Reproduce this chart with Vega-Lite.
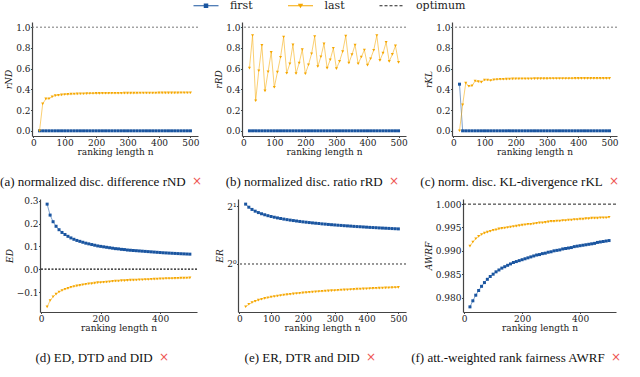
{
"$schema": "https://vega.github.io/schema/vega-lite/v6.json",
"padding": 0,
"background": "white",
"datasets": {
"a": [{"n":20,"f":0,"l":0},{"n":30,"f":0,"l":0.26},{"n":40,"f":0,"l":0.308},{"n":50,"f":0,"l":0.31},{"n":60,"f":0,"l":0.328},{"n":70,"f":0,"l":0.34},{"n":80,"f":0,"l":0.343},{"n":90,"f":0,"l":0.347},{"n":100,"f":0,"l":0.35},{"n":110,"f":0,"l":0.352},{"n":120,"f":0,"l":0.354},{"n":130,"f":0,"l":0.355},{"n":140,"f":0,"l":0.356},{"n":150,"f":0,"l":0.357},{"n":160,"f":0,"l":0.358},{"n":170,"f":0,"l":0.359},{"n":180,"f":0,"l":0.36},{"n":190,"f":0,"l":0.36},{"n":200,"f":0,"l":0.361},{"n":210,"f":0,"l":0.361},{"n":220,"f":0,"l":0.362},{"n":230,"f":0,"l":0.362},{"n":240,"f":0,"l":0.362},{"n":250,"f":0,"l":0.363},{"n":260,"f":0,"l":0.363},{"n":270,"f":0,"l":0.363},{"n":280,"f":0,"l":0.363},{"n":290,"f":0,"l":0.364},{"n":300,"f":0,"l":0.364},{"n":310,"f":0,"l":0.364},{"n":320,"f":0,"l":0.364},{"n":330,"f":0,"l":0.364},{"n":340,"f":0,"l":0.365},{"n":350,"f":0,"l":0.365},{"n":360,"f":0,"l":0.365},{"n":370,"f":0,"l":0.365},{"n":380,"f":0,"l":0.365},{"n":390,"f":0,"l":0.365},{"n":400,"f":0,"l":0.366},{"n":410,"f":0,"l":0.366},{"n":420,"f":0,"l":0.366},{"n":430,"f":0,"l":0.366},{"n":440,"f":0,"l":0.366},{"n":450,"f":0,"l":0.366},{"n":460,"f":0,"l":0.366},{"n":470,"f":0,"l":0.367},{"n":480,"f":0,"l":0.367},{"n":490,"f":0,"l":0.367},{"n":500,"f":0,"l":0.367}],
"b": [{"n":20,"f":0,"l":0.605},{"n":30,"f":0,"l":0.92},{"n":40,"f":0,"l":0.29},{"n":50,"f":0,"l":0.58},{"n":60,"f":0,"l":0.825},{"n":70,"f":0,"l":0.385},{"n":80,"f":0,"l":0.57},{"n":90,"f":0,"l":0.757},{"n":100,"f":0,"l":0.42},{"n":110,"f":0,"l":0.566},{"n":120,"f":0,"l":0.71},{"n":130,"f":0,"l":0.905},{"n":140,"f":0,"l":0.556},{"n":150,"f":0,"l":0.647},{"n":160,"f":0,"l":0.83},{"n":170,"f":0,"l":0.553},{"n":180,"f":0,"l":0.654},{"n":190,"f":0,"l":0.783},{"n":200,"f":0,"l":0.55},{"n":210,"f":0,"l":0.637},{"n":220,"f":0,"l":0.744},{"n":230,"f":0,"l":0.91},{"n":240,"f":0,"l":0.62},{"n":250,"f":0,"l":0.715},{"n":260,"f":0,"l":0.84},{"n":270,"f":0,"l":0.605},{"n":280,"f":0,"l":0.686},{"n":290,"f":0,"l":0.796},{"n":300,"f":0,"l":0.6},{"n":310,"f":0,"l":0.67},{"n":320,"f":0,"l":0.764},{"n":330,"f":0,"l":0.915},{"n":340,"f":0,"l":0.654},{"n":350,"f":0,"l":0.735},{"n":360,"f":0,"l":0.828},{"n":370,"f":0,"l":0.647},{"n":380,"f":0,"l":0.712},{"n":390,"f":0,"l":0.78},{"n":400,"f":0,"l":0.634},{"n":410,"f":0,"l":0.696},{"n":420,"f":0,"l":0.777},{"n":430,"f":0,"l":0.92},{"n":440,"f":0,"l":0.68},{"n":450,"f":0,"l":0.75},{"n":460,"f":0,"l":0.854},{"n":470,"f":0,"l":0.67},{"n":480,"f":0,"l":0.738},{"n":490,"f":0,"l":0.82},{"n":500,"f":0,"l":0.66}],
"c": [{"n":20,"f":0.45,"l":0},{"n":30,"f":0,"l":0.25},{"n":40,"f":0,"l":0.46},{"n":50,"f":0,"l":0.43},{"n":60,"f":0,"l":0.435},{"n":70,"f":0,"l":0.48},{"n":80,"f":0,"l":0.475},{"n":90,"f":0,"l":0.47},{"n":100,"f":0,"l":0.49},{"n":110,"f":0,"l":0.49},{"n":120,"f":0,"l":0.485},{"n":130,"f":0,"l":0.493},{"n":140,"f":0,"l":0.495},{"n":150,"f":0,"l":0.497},{"n":160,"f":0,"l":0.497},{"n":170,"f":0,"l":0.499},{"n":180,"f":0,"l":0.5},{"n":190,"f":0,"l":0.501},{"n":200,"f":0,"l":0.502},{"n":210,"f":0,"l":0.502},{"n":220,"f":0,"l":0.503},{"n":230,"f":0,"l":0.503},{"n":240,"f":0,"l":0.503},{"n":250,"f":0,"l":0.503},{"n":260,"f":0,"l":0.504},{"n":270,"f":0,"l":0.504},{"n":280,"f":0,"l":0.504},{"n":290,"f":0,"l":0.504},{"n":300,"f":0,"l":0.504},{"n":310,"f":0,"l":0.505},{"n":320,"f":0,"l":0.505},{"n":330,"f":0,"l":0.505},{"n":340,"f":0,"l":0.505},{"n":350,"f":0,"l":0.505},{"n":360,"f":0,"l":0.505},{"n":370,"f":0,"l":0.505},{"n":380,"f":0,"l":0.505},{"n":390,"f":0,"l":0.506},{"n":400,"f":0,"l":0.506},{"n":410,"f":0,"l":0.506},{"n":420,"f":0,"l":0.506},{"n":430,"f":0,"l":0.506},{"n":440,"f":0,"l":0.506},{"n":450,"f":0,"l":0.506},{"n":460,"f":0,"l":0.506},{"n":470,"f":0,"l":0.506},{"n":480,"f":0,"l":0.506},{"n":490,"f":0,"l":0.506},{"n":500,"f":0,"l":0.506}],
"d": [{"n":20,"f":0.285,"l":-0.165},{"n":30,"f":0.237,"l":-0.137},{"n":40,"f":0.208,"l":-0.121},{"n":50,"f":0.188,"l":-0.109},{"n":60,"f":0.173,"l":-0.1},{"n":70,"f":0.161,"l":-0.093},{"n":80,"f":0.152,"l":-0.088},{"n":90,"f":0.144,"l":-0.084},{"n":100,"f":0.137,"l":-0.079},{"n":110,"f":0.131,"l":-0.076},{"n":120,"f":0.126,"l":-0.073},{"n":130,"f":0.122,"l":-0.071},{"n":140,"f":0.118,"l":-0.068},{"n":150,"f":0.114,"l":-0.066},{"n":160,"f":0.111,"l":-0.064},{"n":170,"f":0.108,"l":-0.063},{"n":180,"f":0.105,"l":-0.061},{"n":190,"f":0.102,"l":-0.059},{"n":200,"f":0.1,"l":-0.058},{"n":210,"f":0.098,"l":-0.057},{"n":220,"f":0.096,"l":-0.056},{"n":230,"f":0.094,"l":-0.055},{"n":240,"f":0.092,"l":-0.053},{"n":250,"f":0.09,"l":-0.052},{"n":260,"f":0.089,"l":-0.052},{"n":270,"f":0.087,"l":-0.05},{"n":280,"f":0.086,"l":-0.05},{"n":290,"f":0.084,"l":-0.049},{"n":300,"f":0.083,"l":-0.048},{"n":310,"f":0.082,"l":-0.048},{"n":320,"f":0.081,"l":-0.047},{"n":330,"f":0.08,"l":-0.046},{"n":340,"f":0.079,"l":-0.046},{"n":350,"f":0.078,"l":-0.045},{"n":360,"f":0.077,"l":-0.045},{"n":370,"f":0.076,"l":-0.044},{"n":380,"f":0.075,"l":-0.0435},{"n":390,"f":0.074,"l":-0.043},{"n":400,"f":0.073,"l":-0.042},{"n":410,"f":0.072,"l":-0.042},{"n":420,"f":0.0713,"l":-0.041},{"n":430,"f":0.0705,"l":-0.041},{"n":440,"f":0.0698,"l":-0.0405},{"n":450,"f":0.0691,"l":-0.04},{"n":460,"f":0.0684,"l":-0.0397},{"n":470,"f":0.0677,"l":-0.0393},{"n":480,"f":0.0671,"l":-0.039},{"n":490,"f":0.0665,"l":-0.0386},{"n":500,"f":0.0659,"l":-0.0382}],
"e": [{"n":20,"f":2.056,"l":0.5977},{"n":30,"f":1.981,"l":0.6155},{"n":40,"f":1.929,"l":0.6285},{"n":50,"f":1.889,"l":0.6388},{"n":60,"f":1.857,"l":0.6473},{"n":70,"f":1.831,"l":0.6546},{"n":80,"f":1.809,"l":0.6609},{"n":90,"f":1.789,"l":0.6666},{"n":100,"f":1.772,"l":0.6717},{"n":110,"f":1.756,"l":0.6764},{"n":120,"f":1.742,"l":0.6807},{"n":130,"f":1.729,"l":0.6847},{"n":140,"f":1.717,"l":0.6883},{"n":150,"f":1.706,"l":0.6918},{"n":160,"f":1.696,"l":0.695},{"n":170,"f":1.687,"l":0.6981},{"n":180,"f":1.678,"l":0.701},{"n":190,"f":1.669,"l":0.7037},{"n":200,"f":1.661,"l":0.7063},{"n":210,"f":1.654,"l":0.7088},{"n":220,"f":1.647,"l":0.7112},{"n":230,"f":1.64,"l":0.7135},{"n":240,"f":1.634,"l":0.7157},{"n":250,"f":1.628,"l":0.7178},{"n":260,"f":1.621,"l":0.7199},{"n":270,"f":1.616,"l":0.7218},{"n":280,"f":1.61,"l":0.7237},{"n":290,"f":1.605,"l":0.7256},{"n":300,"f":1.6,"l":0.7273},{"n":310,"f":1.595,"l":0.7291},{"n":320,"f":1.591,"l":0.7308},{"n":330,"f":1.586,"l":0.7324},{"n":340,"f":1.582,"l":0.734},{"n":350,"f":1.578,"l":0.7355},{"n":360,"f":1.573,"l":0.737},{"n":370,"f":1.569,"l":0.7385},{"n":380,"f":1.566,"l":0.7399},{"n":390,"f":1.562,"l":0.7413},{"n":400,"f":1.558,"l":0.7427},{"n":410,"f":1.554,"l":0.744},{"n":420,"f":1.551,"l":0.7453},{"n":430,"f":1.548,"l":0.7466},{"n":440,"f":1.544,"l":0.7478},{"n":450,"f":1.541,"l":0.749},{"n":460,"f":1.538,"l":0.7502},{"n":470,"f":1.535,"l":0.7514},{"n":480,"f":1.532,"l":0.7525},{"n":490,"f":1.529,"l":0.7537},{"n":500,"f":1.526,"l":0.7548}],
"f": [{"n":20,"f":0.978,"l":0.991},{"n":30,"f":0.9793,"l":0.9919},{"n":40,"f":0.9805,"l":0.9926},{"n":50,"f":0.9815,"l":0.9931},{"n":60,"f":0.9824,"l":0.9935},{"n":70,"f":0.9832,"l":0.9938},{"n":80,"f":0.9839,"l":0.994},{"n":90,"f":0.9845,"l":0.9942},{"n":100,"f":0.985,"l":0.9944},{"n":110,"f":0.9855,"l":0.9945},{"n":120,"f":0.9859,"l":0.9947},{"n":130,"f":0.9863,"l":0.9948},{"n":140,"f":0.9866,"l":0.9949},{"n":150,"f":0.9869,"l":0.995},{"n":160,"f":0.9872,"l":0.9951},{"n":170,"f":0.9875,"l":0.9952},{"n":180,"f":0.9877,"l":0.9953},{"n":190,"f":0.9879,"l":0.9954},{"n":200,"f":0.9881,"l":0.9955},{"n":210,"f":0.9883,"l":0.9956},{"n":220,"f":0.9885,"l":0.9957},{"n":230,"f":0.9887,"l":0.9957},{"n":240,"f":0.9889,"l":0.9958},{"n":250,"f":0.9891,"l":0.9959},{"n":260,"f":0.9892,"l":0.996},{"n":270,"f":0.9894,"l":0.996},{"n":280,"f":0.9895,"l":0.9961},{"n":290,"f":0.9897,"l":0.9962},{"n":300,"f":0.9898,"l":0.9963},{"n":310,"f":0.99,"l":0.9963},{"n":320,"f":0.9901,"l":0.9964},{"n":330,"f":0.9902,"l":0.9964},{"n":340,"f":0.9904,"l":0.9965},{"n":350,"f":0.9905,"l":0.9965},{"n":360,"f":0.9906,"l":0.9966},{"n":370,"f":0.9907,"l":0.9966},{"n":380,"f":0.9909,"l":0.9967},{"n":390,"f":0.991,"l":0.9967},{"n":400,"f":0.9911,"l":0.9968},{"n":410,"f":0.9912,"l":0.9968},{"n":420,"f":0.9913,"l":0.9969},{"n":430,"f":0.9914,"l":0.9969},{"n":440,"f":0.9915,"l":0.997},{"n":450,"f":0.9916,"l":0.997},{"n":460,"f":0.9918,"l":0.997},{"n":470,"f":0.9919,"l":0.9971},{"n":480,"f":0.992,"l":0.9971},{"n":490,"f":0.9921,"l":0.9971},{"n":500,"f":0.9922,"l":0.9972}]
},
"bounds": "flush",
"spacing": 177,
"vconcat": [
{
"bounds": "flush",
"spacing": 0,
"hconcat": [
{
 "width": 166, "height": 114,
 "title": {"text": "(a) normalized disc. difference rND\u00a0\u00a0\u00a0\u00a0\u00a0\u200b", "subtitle": "×", "dx": 4},
 "data": {"name": "a"},
 "layer": [
  {"data": {"values": [{}]}, "mark": {"type": "rule", "strokeDash": [2, 2], "color": "#777", "strokeWidth": 1}, "encoding": {"y": {"datum": 1, "type": "quantitative"}}},
  {"mark": {"type": "line", "color": "#1a55a0", "opacity": 0.55, "strokeWidth": 1}, "encoding": {"x": {"field": "n", "type": "quantitative", "scale": {"domain": [-4, 524], "nice": false, "zero": false}, "axis": {"values": [0, 100, 200, 300, 400, 500], "tickCount": 50, "labelOverlap": false}, "title": "ranking length n"}, "y": {"field": "f", "type": "quantitative", "scale": {"domain": [-0.05, 1.05], "nice": false, "zero": false}, "axis": {"values": [0, 0.2, 0.4, 0.6, 0.8, 1], "tickCount": 50, "format": ".1f", "labelOverlap": false}, "title": "rND"}}},
  {"mark": {"type": "point", "shape": "square", "filled": true, "size": 9, "color": "#1a55a0", "opacity": 1}, "encoding": {"x": {"field": "n", "type": "quantitative", "title": "ranking length n"}, "y": {"field": "f", "type": "quantitative", "title": "rND"}}},
  {"mark": {"type": "line", "color": "#f5a700", "opacity": 0.55, "strokeWidth": 1}, "encoding": {"x": {"field": "n", "type": "quantitative", "title": "ranking length n"}, "y": {"field": "l", "type": "quantitative", "title": "rND"}}},
  {"mark": {"type": "point", "shape": "triangle-down", "filled": true, "size": 9, "color": "#f5a700", "opacity": 1}, "encoding": {"x": {"field": "n", "type": "quantitative", "title": "ranking length n"}, "y": {"field": "l", "type": "quantitative", "title": "rND"}}},
  {"data": {"values": []}, "mark": {"type": "point", "filled": true, "opacity": 1},
   "encoding": {
    "color": {"field": "s", "type": "nominal", "scale": {"domain": ["first", "last", "optimum"], "range": ["#1a55a0", "#f5a700", "#222222"]},
      "legend": {"orient": "none", "legendX": 168.5, "legendY": -22, "direction": "horizontal", "title": null, "labelFont": "DejaVu Serif, serif", "labelFontSize": 11, "labelColor": "#222", "symbolSize": 36, "symbolStrokeWidth": 0, "labelOffset": 18.5, "columnPadding": 33.5, "padding": 0, "symbolOpacity": 1}},
    "shape": {"field": "s", "type": "nominal", "scale": {"domain": ["first", "last", "optimum"], "range": ["M-4.17,-0.2H4.17V0.2H-4.17Z M-0.75,-0.75H0.75V0.75H-0.75Z", "M-4.17,-0.2H4.17V0.2H-4.17Z M-0.9,-0.65H0.9L0,0.85Z", "M-4.17,-0.2h1v0.4h-1Z M-2.5,-0.2h1v0.4h-1Z M-0.83,-0.2h1v0.4h-1Z M0.83,-0.2h1v0.4h-1Z M2.5,-0.2h1v0.4h-1Z"]}}
   }}
 ]
},
{"width": 44, "height": 114, "data": {"values": []}, "mark": "point"},
{
 "width": 164, "height": 114,
 "title": {"text": "(b) normalized disc. ratio rRD\u00a0\u00a0\u00a0\u00a0\u00a0\u200b", "subtitle": "×", "dx": -7},
 "data": {"name": "b"},
 "layer": [
  {"data": {"values": [{}]}, "mark": {"type": "rule", "strokeDash": [2, 2], "color": "#777", "strokeWidth": 1}, "encoding": {"y": {"datum": 1, "type": "quantitative"}}},
  {"mark": {"type": "line", "color": "#1a55a0", "opacity": 0.55, "strokeWidth": 1}, "encoding": {"x": {"field": "n", "type": "quantitative", "scale": {"domain": [-4, 524], "nice": false, "zero": false}, "axis": {"values": [0, 100, 200, 300, 400, 500], "tickCount": 50, "labelOverlap": false}, "title": "ranking length n"}, "y": {"field": "f", "type": "quantitative", "scale": {"domain": [-0.05, 1.05], "nice": false, "zero": false}, "axis": {"values": [0, 0.2, 0.4, 0.6, 0.8, 1], "tickCount": 50, "format": ".1f", "labelOverlap": false}, "title": "rRD"}}},
  {"mark": {"type": "point", "shape": "square", "filled": true, "size": 9, "color": "#1a55a0", "opacity": 1}, "encoding": {"x": {"field": "n", "type": "quantitative", "title": "ranking length n"}, "y": {"field": "f", "type": "quantitative", "title": "rRD"}}},
  {"mark": {"type": "line", "color": "#f5a700", "opacity": 0.55, "strokeWidth": 1}, "encoding": {"x": {"field": "n", "type": "quantitative", "title": "ranking length n"}, "y": {"field": "l", "type": "quantitative", "title": "rRD"}}},
  {"mark": {"type": "point", "shape": "triangle-down", "filled": true, "size": 9, "color": "#f5a700", "opacity": 1}, "encoding": {"x": {"field": "n", "type": "quantitative", "title": "ranking length n"}, "y": {"field": "l", "type": "quantitative", "title": "rRD"}}}
 ]
},
{"width": 46, "height": 114, "data": {"values": []}, "mark": "point"},
{
 "width": 165, "height": 114,
 "title": {"text": "(c) norm. disc. KL-divergence rKL\u00a0\u00a0\u00a0\u00a0\u00a0\u200b", "subtitle": "×", "dx": 2},
 "data": {"name": "c"},
 "layer": [
  {"data": {"values": [{}]}, "mark": {"type": "rule", "strokeDash": [2, 2], "color": "#777", "strokeWidth": 1}, "encoding": {"y": {"datum": 1, "type": "quantitative"}}},
  {"mark": {"type": "line", "color": "#1a55a0", "opacity": 0.55, "strokeWidth": 1}, "encoding": {"x": {"field": "n", "type": "quantitative", "scale": {"domain": [-4, 524], "nice": false, "zero": false}, "axis": {"values": [0, 100, 200, 300, 400, 500], "tickCount": 50, "labelOverlap": false}, "title": "ranking length n"}, "y": {"field": "f", "type": "quantitative", "scale": {"domain": [-0.05, 1.05], "nice": false, "zero": false}, "axis": {"values": [0, 0.2, 0.4, 0.6, 0.8, 1], "tickCount": 50, "format": ".1f", "labelOverlap": false}, "title": "rKL"}}},
  {"mark": {"type": "point", "shape": "square", "filled": true, "size": 9, "color": "#1a55a0", "opacity": 1}, "encoding": {"x": {"field": "n", "type": "quantitative", "title": "ranking length n"}, "y": {"field": "f", "type": "quantitative", "title": "rKL"}}},
  {"mark": {"type": "line", "color": "#f5a700", "opacity": 0.55, "strokeWidth": 1}, "encoding": {"x": {"field": "n", "type": "quantitative", "title": "ranking length n"}, "y": {"field": "l", "type": "quantitative", "title": "rKL"}}},
  {"mark": {"type": "point", "shape": "triangle-down", "filled": true, "size": 9, "color": "#f5a700", "opacity": 1}, "encoding": {"x": {"field": "n", "type": "quantitative", "title": "ranking length n"}, "y": {"field": "l", "type": "quantitative", "title": "rKL"}}}
 ]
}
]
},
{
"bounds": "flush",
"spacing": 0,
"hconcat": [
{"width": 8, "height": 113, "data": {"values": []}, "mark": "point"},
{
 "width": 157, "height": 113,
 "title": {"text": "(d) ED, DTD and DID\u00a0\u00a0\u00a0\u00a0\u00a0\u200b", "subtitle": "×", "dx": -28},
 "data": {"name": "d"},
 "layer": [
  {"data": {"values": [{}]}, "mark": {"type": "rule", "strokeDash": [2, 1.5], "color": "#111", "strokeWidth": 1.2}, "encoding": {"y": {"datum": 0, "type": "quantitative"}}},
  {"mark": {"type": "line", "color": "#1a55a0", "opacity": 0.55, "strokeWidth": 1}, "encoding": {"x": {"field": "n", "type": "quantitative", "scale": {"domain": [-4, 524], "nice": false, "zero": false}, "axis": {"values": [0, 200, 400], "tickCount": 50, "labelOverlap": false}, "title": "ranking length n"}, "y": {"field": "f", "type": "quantitative", "scale": {"domain": [-0.1875, 0.3075], "nice": false, "zero": false}, "axis": {"values": [-0.1, 0, 0.1, 0.2, 0.3], "tickCount": 50, "format": ".1f", "labelOverlap": false}, "title": "ED"}}},
  {"mark": {"type": "point", "shape": "square", "filled": true, "size": 9, "color": "#1a55a0", "opacity": 1}, "encoding": {"x": {"field": "n", "type": "quantitative", "title": "ranking length n"}, "y": {"field": "f", "type": "quantitative", "title": "ED"}}},
  {"mark": {"type": "line", "color": "#f5a700", "opacity": 0.55, "strokeWidth": 1}, "encoding": {"x": {"field": "n", "type": "quantitative", "title": "ranking length n"}, "y": {"field": "l", "type": "quantitative", "title": "ED"}}},
  {"mark": {"type": "point", "shape": "triangle-down", "filled": true, "size": 9, "color": "#f5a700", "opacity": 1}, "encoding": {"x": {"field": "n", "type": "quantitative", "title": "ranking length n"}, "y": {"field": "l", "type": "quantitative", "title": "ED"}}}
 ]
},
{"width": 41, "height": 113, "data": {"values": []}, "mark": "point"},
{
 "width": 168, "height": 113,
 "title": {"text": "(e) ER, DTR and DID\u00a0\u00a0\u00a0\u00a0\u00a0\u200b", "subtitle": "×", "dx": -30},
 "data": {"name": "e"},
 "layer": [
  {"data": {"values": [{}]}, "mark": {"type": "rule", "strokeDash": [2, 2], "color": "#333", "strokeWidth": 1}, "encoding": {"y": {"datum": 1, "type": "quantitative"}}},
  {"mark": {"type": "line", "color": "#1a55a0", "opacity": 0.55, "strokeWidth": 1}, "encoding": {"x": {"field": "n", "type": "quantitative", "scale": {"domain": [-4, 524], "nice": false, "zero": false}, "axis": {"values": [0, 100, 200, 300, 400, 500], "tickCount": 50, "labelOverlap": false}, "title": "ranking length n"}, "y": {"field": "f", "type": "quantitative", "scale": {"type": "log", "base": 2, "domain": [0.561, 2.187], "nice": false, "zero": false}, "axis": {"values": [1, 2], "tickCount": 50, "labelExpr": "datum.value == 1 ? '2⁰' : '2¹'", "labelOverlap": false}, "title": "ER"}}},
  {"mark": {"type": "point", "shape": "square", "filled": true, "size": 9, "color": "#1a55a0", "opacity": 1}, "encoding": {"x": {"field": "n", "type": "quantitative", "title": "ranking length n"}, "y": {"field": "f", "type": "quantitative", "title": "ER"}}},
  {"mark": {"type": "line", "color": "#f5a700", "opacity": 0.55, "strokeWidth": 1}, "encoding": {"x": {"field": "n", "type": "quantitative", "title": "ranking length n"}, "y": {"field": "l", "type": "quantitative", "title": "ER"}}},
  {"mark": {"type": "point", "shape": "triangle-down", "filled": true, "size": 9, "color": "#f5a700", "opacity": 1}, "encoding": {"x": {"field": "n", "type": "quantitative", "title": "ranking length n"}, "y": {"field": "l", "type": "quantitative", "title": "ER"}}}
 ]
},
{"width": 57, "height": 113, "data": {"values": []}, "mark": "point"},
{
 "width": 153, "height": 113,
 "title": {"text": "(f) att.-weighted rank fairness AWRF\u00a0\u00a0\u00a0\u00a0\u00a0\u200b", "subtitle": "×", "dx": 5},
 "data": {"name": "f"},
 "layer": [
  {"data": {"values": [{}]}, "mark": {"type": "rule", "strokeDash": [3, 2], "color": "#222", "strokeWidth": 1}, "encoding": {"y": {"datum": 1, "type": "quantitative"}}},
  {"mark": {"type": "line", "color": "#1a55a0", "opacity": 0.55, "strokeWidth": 1}, "encoding": {"x": {"field": "n", "type": "quantitative", "scale": {"domain": [-4, 524], "nice": false, "zero": false}, "axis": {"values": [0, 200, 400], "tickCount": 50, "labelOverlap": false}, "title": "ranking length n"}, "y": {"field": "f", "type": "quantitative", "scale": {"domain": [0.9769, 1.0011], "nice": false, "zero": false}, "axis": {"values": [0.98, 0.985, 0.99, 0.995, 1], "tickCount": 50, "format": ".3f", "labelOverlap": false}, "title": "AWRF"}}},
  {"mark": {"type": "point", "shape": "square", "filled": true, "size": 9, "color": "#1a55a0", "opacity": 1}, "encoding": {"x": {"field": "n", "type": "quantitative", "title": "ranking length n"}, "y": {"field": "f", "type": "quantitative", "title": "AWRF"}}},
  {"mark": {"type": "line", "color": "#f5a700", "opacity": 0.55, "strokeWidth": 1}, "encoding": {"x": {"field": "n", "type": "quantitative", "title": "ranking length n"}, "y": {"field": "l", "type": "quantitative", "title": "AWRF"}}},
  {"mark": {"type": "point", "shape": "triangle-down", "filled": true, "size": 9, "color": "#f5a700", "opacity": 1}, "encoding": {"x": {"field": "n", "type": "quantitative", "title": "ranking length n"}, "y": {"field": "l", "type": "quantitative", "title": "AWRF"}}}
 ]
}
]
}
],
"config": {
 "view": {"stroke": null},
 "axis": {"grid": false, "labelOverlap": false, "domainColor": "#444", "domainWidth": 1.2, "tickColor": "#444", "tickSize": 1.5, "tickWidth": 1, "labelFont": "DejaVu Serif, serif", "labelFontSize": 9, "labelColor": "#222", "labelPadding": 0.5, "labelFlush": false, "titleFont": "DejaVu Serif, serif", "titleFontSize": 9, "titleFontWeight": "normal", "titleColor": "#222"},
 "axisX": {"titlePadding": 0.5},
 "axisY": {"titleFontStyle": "italic", "titlePadding": 2},
 "title": {"orient": "bottom", "anchor": "end", "frame": "group", "font": "Liberation Serif", "fontSize": 13, "fontWeight": "normal", "color": "#111", "offset": 19, "subtitleFont": "DejaVu Sans", "subtitleFontSize": 12, "subtitleColor": "#ee5555", "subtitlePadding": -13}
}
}
